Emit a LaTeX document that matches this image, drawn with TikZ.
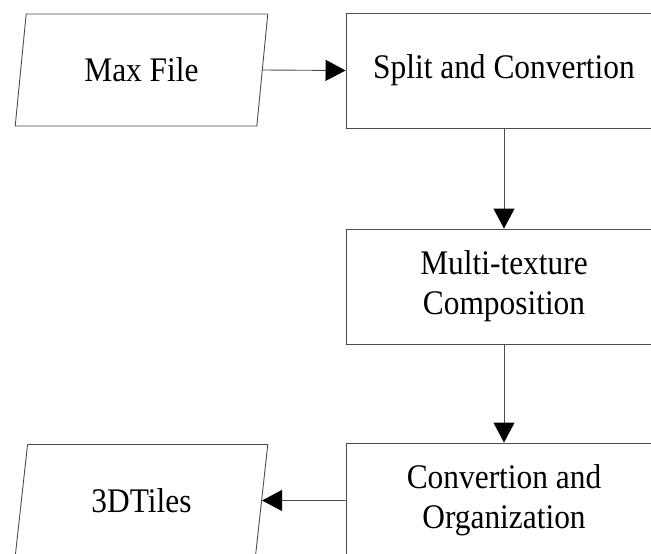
\documentclass[tikz,border=0pt]{standalone}
\usepackage{fontspec}
\setmainfont{Liberation Serif}[FakeStretch=0.91]
\usetikzlibrary{arrows.meta,shapes.geometric}

\tikzset{
  every node/.style={font=\fontsize{34.5}{40}\selectfont, text=black, align=center},
  procbox/.style={draw=black!70, line width=0.9pt, rectangle,
    minimum width=316pt, minimum height=115pt, inner sep=0pt},
  iobox/.style={draw=black!70, line width=0.9pt, trapezium,
    trapezium left angle=77.4, trapezium right angle=102.6,
    trapezium stretches=true,
    minimum width=253pt, minimum height=112pt, inner sep=0pt},
  flow/.style={draw=black!70, line width=0.9pt,
    -{Triangle[length=20pt,width=21pt,fill=black,color=black]}}
}

\begin{document}
\begin{tikzpicture}[x=1pt,y=1pt]
  \useasboundingbox (0,0) rectangle (651,-554);
  \clip (0,0) rectangle (651,-554);

  % input and output data
  \node[iobox] (maxfile) at (141.5,-70) {Max File};
  \node[iobox] (tiles)   at (141.5,-500.5) {3DTiles};

  % processing steps
  \node[procbox] (split)   at (504,-70.5)  {Split and Convertion};
  \node[procbox] (multi)   at (504,-286.5) {Multi-texture\\Composition};
  \node[procbox] (convert) at (504,-500.5) {Convertion and\\Organization};

  % flow
  \draw[flow] (maxfile.east) -- (split.west);
  \draw[flow] (split.south) -- (multi.north);
  \draw[flow] (multi.south) -- (convert.north);
  \draw[flow] (convert.west) -- (tiles.east);
\end{tikzpicture}
\end{document}
